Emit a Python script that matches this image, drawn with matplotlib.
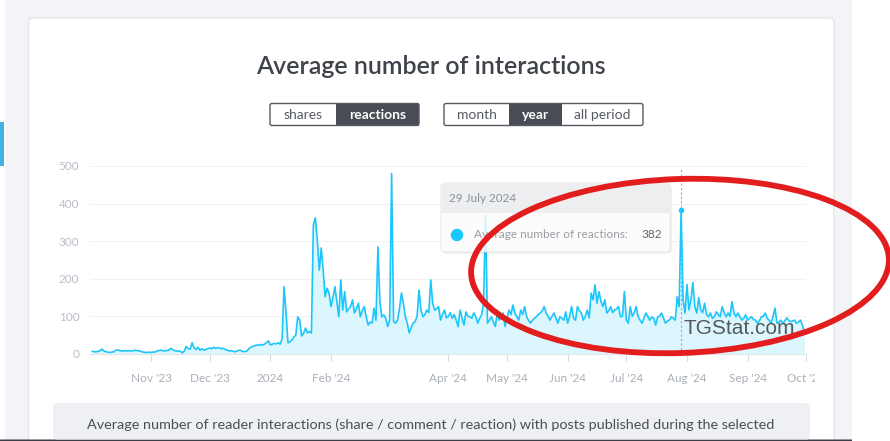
import matplotlib.pyplot as plt
import matplotlib.dates as mdates
import matplotlib.patches as mpatches
from matplotlib.transforms import IdentityTransform
import numpy as np
import pandas as pd

# daily average reactions, one list per month (Oct 2 2023 .. Sep 30 2024)
oct_23 = [7, 6, 6, 7, 9, 13, 8, 6, 5, 4, 5, 6, 10, 11, 9, 8, 8, 9, 8, 9,
          8, 9, 10, 9, 8, 7, 5, 4, 4, 5]
nov_23 = [4, 5, 5, 8, 9, 10, 9, 8, 9, 10, 15, 12, 9, 8, 8, 7, 3, 8, 20, 14,
          13, 30, 16, 12, 18, 10, 14, 10, 12, 14]
dec_23 = [16, 14, 18, 15, 17, 16, 14, 15, 12, 10, 8, 9, 7, 6, 8, 10, 9, 7, 6, 8,
          14, 18, 20, 22, 24, 23, 25, 24, 26, 30, 35]
jan_24 = [24, 26, 28, 27, 30, 26, 40, 179, 112, 30, 32, 37, 45, 50, 99, 90, 48, 55,
          69, 56, 60, 56, 343, 362, 303, 223, 282, 223, 152, 175, 162]
feb_24 = [126, 150, 179, 140, 99, 197, 117, 166, 112, 120, 126, 144, 109, 120, 135,
          99, 115, 126, 99, 77, 85, 82, 122, 90, 285, 139, 99, 104, 95]
mar_24 = [73, 90, 480, 86, 82, 90, 120, 162, 135, 100, 82, 56, 70, 82, 86, 100, 170,
          117, 99, 105, 117, 110, 197, 135, 117, 120, 126, 90, 105, 117, 96]
apr_24 = [100, 110, 95, 105, 90, 73, 117, 95, 77, 112, 100, 99, 95, 109, 100, 82, 95,
          104, 135, 370, 82, 90, 99, 85, 73, 109, 90, 100, 109, 73]
may_24 = [95, 117, 105, 130, 109, 100, 90, 117, 105, 126, 99, 90, 82, 90, 95, 99, 105,
          109, 115, 126, 109, 100, 90, 100, 109, 95, 82, 99, 95, 90, 112]
jun_24 = [82, 100, 126, 95, 90, 126, 115, 109, 90, 100, 117, 96, 162, 144, 184, 135,
          166, 140, 126, 144, 109, 115, 126, 110, 117, 120, 126, 99, 100, 166]
jul_24 = [90, 82, 126, 100, 109, 126, 100, 90, 82, 95, 109, 100, 90, 99, 95, 77, 99,
          100, 109, 95, 82, 88, 90, 99, 95, 90, 152, 126, 382, 144, 109]
aug_24 = [185, 117, 144, 190, 126, 109, 150, 117, 110, 135, 105, 99, 109, 95, 99, 112,
          105, 99, 126, 110, 99, 109, 100, 139, 110, 99, 109, 100, 90, 95, 104]
sep_24 = [90, 95, 99, 92, 90, 82, 88, 99, 100, 109, 95, 90, 82, 100, 122, 82, 85, 90,
          82, 88, 96, 90, 86, 88, 90, 82, 85, 90, 77, 59]

values = oct_23 + nov_23 + dec_23 + jan_24 + feb_24 + mar_24 + apr_24 + may_24 \
    + jun_24 + jul_24 + aug_24 + sep_24
dates = pd.date_range("2023-10-02", periods=len(values), freq="D")

tick_dates = ["2023-11-01", "2023-12-01", "2024-01-01", "2024-02-01", "2024-04-01",
              "2024-05-01", "2024-06-01", "2024-07-01", "2024-08-01", "2024-09-01",
              "2024-10-01"]
tick_labels = ["Nov '23", "Dec '23", "2024", "Feb '24", "Apr '24", "May '24",
               "Jun '24", "Jul '24", "Aug '24", "Sep '24", "Oct '24"]
y_ticks = [0, 100, 200, 300, 400, 500]

hover_date = "2024-07-29"
hover_value = 382

W, H = 890, 441
PX = IdentityTransform()
plt.rcParams['font.family'] = ['Lato', 'DejaVu Sans']

fig = plt.figure(figsize=(W / 100, H / 100), dpi=100)
fig.patch.set_facecolor('#f3f4f8')


def rect(x0, y0, x1, y1, color, z=-5, r=0, edgecolor='none', **kw):
    # pixel box, y measured from the top
    p = mpatches.FancyBboxPatch((x0, H - y1), x1 - x0, y1 - y0,
                                boxstyle=f"round,pad=0,rounding_size={r}",
                                facecolor=color, edgecolor=edgecolor,
                                transform=PX, zorder=z, **kw)
    fig.patches.append(p)
    return p


def label(x, y, s, **kw):
    return fig.text(x, H - y, s, transform=PX, **kw)


# page pieces
rect(0, 0, 5, H, 'white')
rect(0, 122, 4, 166, '#3fb4e4', z=-4)
rect(852, 0, W, H, 'white')
rect(28.5, 18, 834, H + 10, 'white', r=5, edgecolor='#e4e6eb', linewidth=1)
rect(0, 439.5, 852, H + 2, '#3a3f47', z=-3)

label(431, 66, "Average number of interactions", ha='center', va='center',
      fontsize=18, color='#3f434a', fontweight='semibold')

# toggle buttons
buttons = [(270, 336, "shares", False), (336, 419, "reactions", True),
           (444, 509, "month", False), (509, 562, "year", True),
           (562, 643, "all period", False)]
for x0, x1, txt, on in buttons:
    rect(x0, 103.5, x1, 125.5, '#474c55' if on else 'white', z=-2)
    label((x0 + x1) / 2, 115, txt, ha='center', va='center', fontsize=10,
          color='white' if on else '#555a62', fontweight='bold' if on else 'normal')
for x0, x1 in [(270, 419), (444, 643)]:
    rect(x0, 103.5, x1, 125.5, 'none', z=-1, r=2, edgecolor='#555a62', linewidth=1)

# chart area: Oct 1 2023 .. Oct 1 2024 spans 90.4..806.3 px, 0..500 spans 354..166
ax = fig.add_axes([90.4 / W, 1 - 354 / H, (806.3 - 90.4) / W, (354 - 166) / H])
ax.set_facecolor('none')
ax.set_xlim(pd.Timestamp("2023-10-01"), pd.Timestamp("2024-10-01"))
ax.set_ylim(0, 500)

ax.fill_between(dates, values, color='#dcf6fe', zorder=1, linewidth=0)
ax.plot(dates, values, color='#1cc6fb', lw=1.2, zorder=3)
ax.axvline(pd.Timestamp(hover_date), ymax=0.99, color='#a8a8a8', lw=0.8,
           ls=(0, (2, 2)), zorder=2)
ax.plot([pd.Timestamp(hover_date)], [hover_value], 'o', ms=3, color='#1cc6fb', zorder=4)

ax.set_yticks(y_ticks)
ax.set_yticklabels([str(v) for v in y_ticks])
ax.tick_params(axis='y', length=0, pad=8, labelsize=8.5, labelcolor='#b9bec7')
ax.grid(axis='y', color='#f1f2f4', lw=0.8, zorder=0)
ax.set_axisbelow(True)

ax.set_xticks([pd.Timestamp(d) for d in tick_dates])
ax.set_xticklabels([])
ax.tick_params(axis='x', length=5, color='#d5dbe8', width=0.8)
for sp in ['top', 'right', 'left']:
    ax.spines[sp].set_visible(False)
ax.spines['bottom'].set_color('#e3e5e8')
ax.spines['bottom'].set_linewidth(0.8)

clip = mpatches.Rectangle((0, 0), 815, H, transform=PX)
for d, s in zip(tick_dates, tick_labels):
    t = ax.text(pd.Timestamp(d), -24 / 188, s, transform=ax.get_xaxis_transform(),
                ha='center', va='center', fontsize=8.5, color='#aab0b8')
    t.set_clip_on(True)
    t.set_clip_path(clip)

# tooltip
rect(443, 185, 672, 254, '#000000', z=4, r=4, alpha=0.05)
rect(441, 183, 670, 252, 'white', z=5, r=4, alpha=0.82, edgecolor='#e2e4e6', linewidth=0.8)
rect(441.5, 183.5, 669.5, 213, '#eceeef', z=5.5, r=3)
rect(441.5, 208, 669.5, 213, '#eceeef', z=5.5)
label(449, 198, "29 July 2024", va='center', fontsize=8.5, color='#8d9096', zorder=6)
fig.patches.append(mpatches.Circle((457, H - 235), 5.5, color='#16c8ff',
                                   transform=PX, zorder=6))
label(474, 235, "Average number of reactions:", va='center', fontsize=8.5,
      color='#9a9da3', zorder=6)
label(662, 235, str(hover_value), va='center', ha='right', fontsize=8.5,
      color='#5f636a', zorder=6)

# watermark
label(683, 328, "TGStat.com", va='center', fontsize=15, color='#3d3d3d', alpha=0.85,
      family='Liberation Sans', zorder=6)

# info box below the chart
rect(53, 403, 810, 439.5, '#eef0f4', z=-2, r=4)
label(431, 425, "Average number of reader interactions (share / comment / reaction) "
      "with posts published during the selected", ha='center', va='center',
      fontsize=10.4, color='#4a4e55')

# red hand-drawn ellipse
fig.patches.append(mpatches.Ellipse((680, H - 266), 418, 174, angle=2, fill=False,
                                    edgecolor='#e21d1d', lw=4.2, transform=PX, zorder=7))

fig.savefig("out.png", dpi=100, facecolor=fig.get_facecolor())
